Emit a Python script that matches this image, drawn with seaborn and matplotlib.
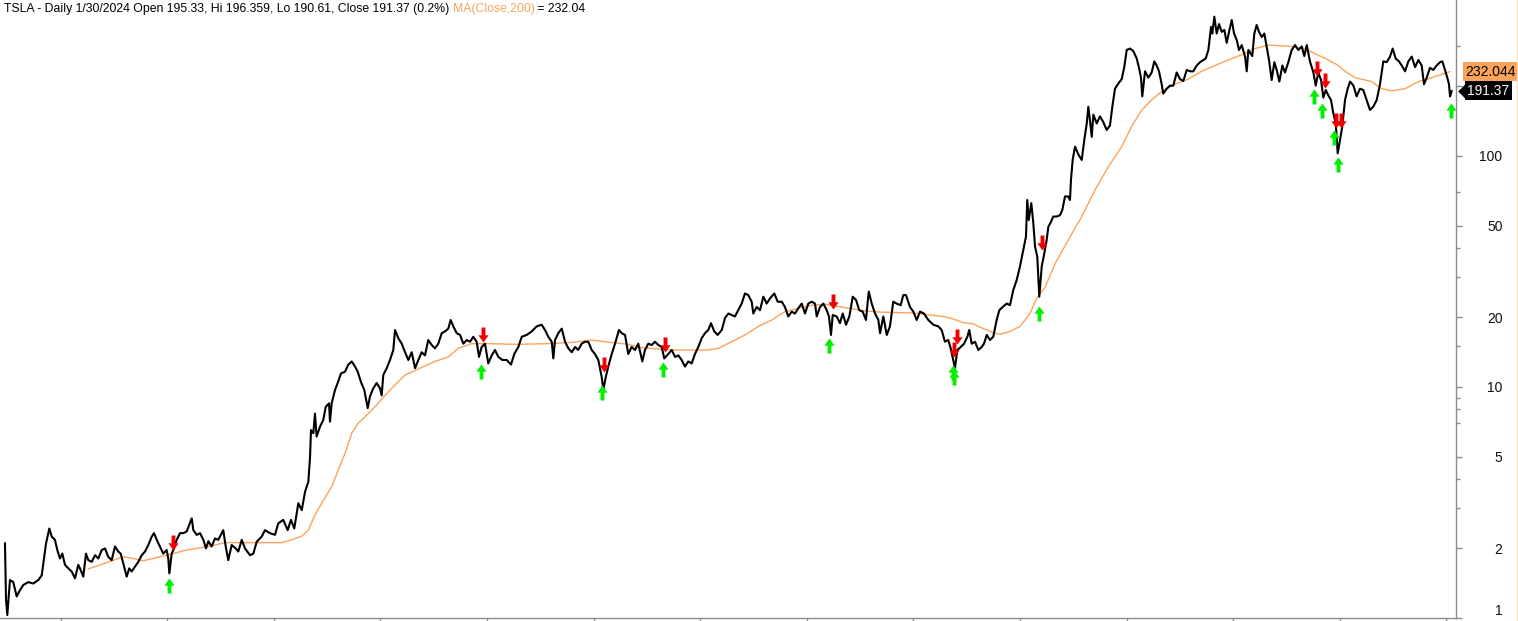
import matplotlib
matplotlib.use("Agg")
import matplotlib.pyplot as plt
import matplotlib.transforms as mtransforms
from matplotlib.path import Path
from matplotlib.lines import Line2D
import seaborn as sns

# TSLA daily close (decimal year, price)
price_t = [
    2010.478, 2010.488, 2010.500, 2010.525, 2010.556, 2010.588, 2010.619, 2010.650, 2010.697, 2010.744,
    2010.791, 2010.823, 2010.838, 2010.863, 2010.894, 2010.917, 2010.947, 2010.969, 2010.994, 2011.016,
    2011.041, 2011.072, 2011.104, 2011.135, 2011.166, 2011.189, 2011.213, 2011.238, 2011.260, 2011.292,
    2011.323, 2011.354, 2011.386, 2011.417, 2011.447, 2011.479, 2011.510, 2011.541, 2011.564, 2011.595,
    2011.620, 2011.644, 2011.667, 2011.698, 2011.729, 2011.761, 2011.792, 2011.823, 2011.855, 2011.876,
    2011.902, 2011.932, 2011.963, 2011.995, 2012.010, 2012.020, 2012.042, 2012.064, 2012.089, 2012.120,
    2012.151, 2012.183, 2012.207, 2012.230, 2012.245, 2012.277, 2012.308, 2012.339, 2012.364, 2012.386,
    2012.417, 2012.448, 2012.479, 2012.526, 2012.549, 2012.573, 2012.605, 2012.643, 2012.667, 2012.699,
    2012.730, 2012.777, 2012.808, 2012.840, 2012.886, 2012.917, 2012.964, 2013.011, 2013.042, 2013.089,
    2013.130, 2013.161, 2013.192, 2013.230, 2013.262, 2013.293, 2013.324, 2013.340, 2013.349, 2013.371,
    2013.386, 2013.402, 2013.433, 2013.464, 2013.487, 2013.518, 2013.527, 2013.543, 2013.574, 2013.599,
    2013.630, 2013.668, 2013.699, 2013.731, 2013.762, 2013.787, 2013.818, 2013.849, 2013.881, 2013.902,
    2013.933, 2013.965, 2013.996, 2014.012, 2014.027, 2014.059, 2014.090, 2014.121, 2014.137, 2014.168,
    2014.200, 2014.231, 2014.262, 2014.294, 2014.325, 2014.356, 2014.387, 2014.418, 2014.449, 2014.481,
    2014.512, 2014.543, 2014.575, 2014.606, 2014.637, 2014.659, 2014.684, 2014.716, 2014.747, 2014.778,
    2014.810, 2014.841, 2014.871, 2014.903, 2014.925, 2014.950, 2014.981, 2015.012, 2015.044, 2015.075,
    2015.106, 2015.144, 2015.185, 2015.225, 2015.256, 2015.294, 2015.326, 2015.372, 2015.419, 2015.466,
    2015.513, 2015.544, 2015.575, 2015.607, 2015.622, 2015.638, 2015.669, 2015.701, 2015.732, 2015.763,
    2015.795, 2015.826, 2015.856, 2015.888, 2015.919, 2015.950, 2015.982, 2016.013, 2016.044, 2016.076,
    2016.091, 2016.114, 2016.138, 2016.170, 2016.201, 2016.238, 2016.264, 2016.295, 2016.325, 2016.357,
    2016.388, 2016.419, 2016.457, 2016.482, 2016.513, 2016.545, 2016.576, 2016.607, 2016.639, 2016.663,
    2016.701, 2016.733, 2016.764, 2016.795, 2016.826, 2016.857, 2016.888, 2016.920, 2016.951, 2016.982,
    2017.014, 2017.045, 2017.076, 2017.101, 2017.132, 2017.164, 2017.202, 2017.233, 2017.264, 2017.296,
    2017.326, 2017.357, 2017.389, 2017.420, 2017.451, 2017.483, 2017.498, 2017.530, 2017.561, 2017.592,
    2017.624, 2017.655, 2017.695, 2017.727, 2017.765, 2017.795, 2017.826, 2017.858, 2017.889, 2017.920,
    2017.952, 2017.983, 2018.014, 2018.046, 2018.077, 2018.093, 2018.124, 2018.155, 2018.187, 2018.208,
    2018.227, 2018.243, 2018.280, 2018.311, 2018.337, 2018.368, 2018.399, 2018.431, 2018.462, 2018.492,
    2018.524, 2018.555, 2018.581, 2018.609, 2018.640, 2018.671, 2018.687, 2018.718, 2018.750, 2018.780,
    2018.811, 2018.843, 2018.881, 2018.905, 2018.930, 2018.968, 2018.999, 2019.031, 2019.062, 2019.099,
    2019.140, 2019.187, 2019.234, 2019.265, 2019.296, 2019.327, 2019.350, 2019.374, 2019.390, 2019.412,
    2019.444, 2019.475, 2019.506, 2019.524, 2019.547, 2019.578, 2019.609, 2019.641, 2019.662, 2019.688,
    2019.718, 2019.749, 2019.781, 2019.806, 2019.838, 2019.875, 2019.906, 2019.937, 2019.969, 2020.000,
    2020.031, 2020.056, 2020.068, 2020.082, 2020.106, 2020.125, 2020.141, 2020.162, 2020.181, 2020.204,
    2020.228, 2020.250, 2020.266, 2020.291, 2020.312, 2020.344, 2020.375, 2020.397, 2020.422, 2020.453,
    2020.469, 2020.478, 2020.494, 2020.516, 2020.547, 2020.579, 2020.603, 2020.626, 2020.641, 2020.656,
    2020.673, 2020.688, 2020.720, 2020.750, 2020.781, 2020.813, 2020.844, 2020.866, 2020.891, 2020.922,
    2020.954, 2020.978, 2021.001, 2021.032, 2021.063, 2021.095, 2021.116, 2021.135, 2021.147, 2021.173,
    2021.204, 2021.235, 2021.260, 2021.282, 2021.304, 2021.329, 2021.344, 2021.376, 2021.407, 2021.438,
    2021.470, 2021.501, 2021.532, 2021.564, 2021.595, 2021.626, 2021.658, 2021.689, 2021.720, 2021.742,
    2021.767, 2021.792, 2021.804, 2021.823, 2021.845, 2021.867, 2021.892, 2021.917, 2021.939, 2021.961,
    2021.986, 2022.008, 2022.033, 2022.054, 2022.080, 2022.111, 2022.127, 2022.142, 2022.179, 2022.198,
    2022.220, 2022.242, 2022.267, 2022.292, 2022.314, 2022.336, 2022.361, 2022.386, 2022.408, 2022.433,
    2022.461, 2022.486, 2022.517, 2022.549, 2022.580, 2022.611, 2022.643, 2022.667, 2022.690, 2022.720,
    2022.752, 2022.774, 2022.798, 2022.824, 2022.845, 2022.868, 2022.892, 2022.917, 2022.939, 2022.962,
    2022.980, 2023.002, 2023.023, 2023.049, 2023.074, 2023.096, 2023.127, 2023.158, 2023.189, 2023.220,
    2023.252, 2023.283, 2023.314, 2023.346, 2023.377, 2023.408, 2023.440, 2023.471, 2023.496, 2023.524,
    2023.555, 2023.581, 2023.612, 2023.643, 2023.675, 2023.706, 2023.737, 2023.768, 2023.790, 2023.815,
    2023.846, 2023.877, 2023.909, 2023.940, 2023.962, 2023.987, 2024.012, 2024.024, 2024.034, 2024.050,
]
price_v = [
    2.11, 1.20, 1.03, 1.46, 1.43, 1.24, 1.32, 1.39, 1.43, 1.41,
    1.46, 1.53, 1.725, 2.10, 2.44, 2.25, 2.18, 1.97, 1.81, 1.90,
    1.70, 1.64, 1.59, 1.485, 1.70, 1.61, 1.51, 1.90, 1.78, 1.75,
    1.87, 1.81, 1.97, 2.00, 1.84, 1.78, 2.04, 1.94, 1.90, 1.67,
    1.51, 1.64, 1.59, 1.67, 1.75, 1.87, 1.94, 2.07, 2.25, 2.33,
    2.18, 2.04, 1.90, 1.97, 1.81, 1.56, 1.90, 2.00, 2.18, 2.33,
    2.33, 2.37, 2.53, 2.70, 2.40, 2.29, 2.33, 2.18, 2.00, 2.15,
    2.04, 2.21, 2.18, 2.40, 2.04, 1.78, 2.07, 2.00, 1.94, 2.18,
    2.00, 1.87, 1.90, 2.14, 2.25, 2.40, 2.33, 2.29, 2.57, 2.66,
    2.40, 2.66, 2.44, 3.14, 2.93, 3.52, 3.89, 4.98, 6.51, 6.31,
    7.67, 6.10, 6.73, 7.20, 8.20, 8.50, 7.08, 8.50, 9.70, 10.4,
    11.44, 11.65, 12.5, 12.9, 12.26, 11.65, 10.5, 9.70, 8.10, 9.10,
    9.87, 10.4, 9.87, 9.20, 11.27, 12.06, 13.09, 14.46, 17.65, 16.27,
    15.4, 14.14, 13.09, 14.14, 12.06, 13.09, 14.14, 13.7, 15.97, 15.2,
    14.7, 15.4, 17.1, 17.4, 17.9, 19.5, 18.3, 17.1, 16.8, 15.4,
    15.97, 15.7, 16.5, 15.7, 13.5, 14.9, 15.4, 12.65, 13.7, 14.46,
    13.5, 13.09, 13.09, 12.5, 13.9, 14.9, 16.5, 16.8, 17.4, 18.3,
    18.6, 17.65, 16.5, 15.7, 13.3, 15.97, 17.1, 17.9, 15.7, 14.7,
    14.14, 14.9, 14.46, 15.4, 15.7, 15.7, 14.46, 13.9, 13.09, 11.05,
    9.70, 11.05, 12.26, 13.9, 15.4, 17.65, 17.1, 16.8, 13.9, 14.9,
    14.46, 15.4, 12.9, 14.46, 15.4, 15.2, 15.7, 15.2, 14.9, 13.3,
    13.9, 14.46, 13.5, 13.7, 13.09, 12.26, 12.9, 12.65, 13.9, 14.9,
    16.27, 17.1, 17.65, 18.9, 17.4, 16.8, 17.65, 19.9, 20.8, 20.5,
    20.2, 21.5, 22.97, 25.4, 25.0, 23.4, 20.8, 22.2, 21.5, 24.6,
    22.97, 24.2, 25.4, 23.4, 23.4, 22.2, 20.2, 21.2, 20.8, 21.9,
    22.97, 20.8, 22.97, 23.4, 22.97, 20.2, 22.2, 22.97, 21.5, 20.2,
    16.8, 20.5, 20.2, 18.9, 20.8, 18.6, 20.2, 24.6, 23.8, 21.5,
    21.2, 19.5, 25.9, 22.97, 20.8, 19.5, 17.1, 20.2, 16.8, 18.3,
    23.4, 22.97, 22.6, 25.0, 25.0, 22.2, 21.2, 19.5, 21.2, 20.8,
    19.5, 18.6, 18.3, 17.65, 15.7, 15.97, 14.7, 13.09, 12.06, 14.46,
    14.9, 15.4, 16.5, 17.65, 15.4, 15.7, 14.46, 14.9, 15.4, 16.8,
    15.97, 16.5, 19.5, 21.5, 22.2, 22.97, 22.6, 26.3, 29.05, 33.3,
    39.2, 44.8, 64.5, 52.8, 62.5, 51.2, 40.5, 36.7, 24.6, 33.3,
    37.9, 43.3, 49.4, 51.9, 54.7, 54.7, 55.4, 58.4, 66.8, 66.8,
    64.5, 78.7, 96.1, 109.8, 101.6, 96.1, 117.3, 138.3, 163.4, 143.2,
    121.0, 151.0, 138.3, 148.5, 140.3, 129.6, 135.5, 163.4, 195.6, 205.7,
    215.2, 242.5, 287.7, 291.8, 284.5, 264.3, 240.9, 218.3, 181.2, 232.6,
    218.3, 229.9, 256.8, 246.5, 232.6, 204.5, 186.3, 195.6, 201.7, 201.7,
    229.9, 215.2, 211.2, 235.7, 232.6, 232.6, 246.5, 254.8, 260.4, 264.3,
    287.7, 362.0, 339.0, 401.2, 339.0, 372.4, 344.8, 351.2, 309.0, 344.8,
    388.0, 339.0, 317.9, 287.7, 302.1, 269.4, 232.6, 287.7, 270.8, 339.0,
    369.0, 344.8, 327.0, 339.0, 297.9, 260.4, 213.3, 254.8, 235.7, 210.0,
    246.5, 229.9, 254.8, 287.7, 302.1, 287.7, 297.9, 270.8, 302.1, 256.8,
    229.9, 201.7, 229.9, 213.3, 179.0, 193.1, 183.2, 174.8, 153.3, 138.3,
    102.7, 117.3, 134.4, 174.8, 195.6, 210.0, 202.1, 181.2, 195.6, 193.1,
    174.8, 158.2, 163.4, 174.8, 204.5, 256.8, 254.8, 269.4, 291.8, 264.3,
    256.8, 246.5, 232.6, 256.8, 269.4, 242.5, 260.4, 246.5, 204.5, 218.3,
    240.9, 235.7, 246.5, 254.8, 256.8, 235.7, 215.2, 204.5, 181.0, 191.37,
]

# MA(Close,200)
ma_t = [
    2011.260, 2011.588, 2011.682, 2011.776, 2011.995, 2012.183, 2012.386, 2012.542, 2012.824, 2013.074,
    2013.168, 2013.262, 2013.324, 2013.386, 2013.449, 2013.543, 2013.605, 2013.668, 2013.731, 2013.793,
    2013.856, 2013.949, 2014.043, 2014.137, 2014.231, 2014.371, 2014.512, 2014.637, 2014.731, 2014.856,
    2015.044, 2015.263, 2015.575, 2015.795, 2015.982, 2016.107, 2016.325, 2016.451, 2016.607, 2016.764,
    2017.076, 2017.170, 2017.233, 2017.326, 2017.420, 2017.545, 2017.671, 2017.795, 2017.920, 2018.046,
    2018.171, 2018.374, 2018.530, 2018.687, 2018.999, 2019.156, 2019.280, 2019.374, 2019.468, 2019.562,
    2019.656, 2019.749, 2019.812, 2019.906, 2020.000, 2020.094, 2020.157, 2020.235, 2020.329, 2020.453,
    2020.579, 2020.704, 2020.829, 2020.954, 2021.048, 2021.142, 2021.235, 2021.329, 2021.454, 2021.579,
    2021.704, 2021.829, 2021.954, 2022.048, 2022.111, 2022.205, 2022.329, 2022.517, 2022.673, 2022.767,
    2022.892, 2022.986, 2023.049, 2023.143, 2023.299, 2023.393, 2023.486, 2023.612, 2023.737, 2023.862,
    2024.034,
]
ma_v = [
    1.63, 1.84, 1.81, 1.77, 1.87, 1.97, 2.04, 2.12, 2.12, 2.12,
    2.18, 2.26, 2.40, 2.79, 3.14, 3.70, 4.37, 5.16, 6.31, 6.98,
    7.43, 8.20, 9.20, 10.2, 11.27, 12.06, 12.9, 13.5, 14.7, 15.4,
    15.4, 15.3, 15.4, 15.6, 15.97, 15.7, 15.3, 14.8, 14.6, 14.46,
    14.46, 14.7, 15.2, 15.97, 16.8, 18.3, 19.5, 21.2, 21.9, 22.6,
    22.8, 22.0, 21.4, 21.1, 20.9, 20.5, 20.2, 19.7, 19.0, 18.75,
    17.9, 17.2, 16.9, 17.4, 18.3, 20.8, 24.2, 27.0, 34.2, 43.3,
    54.7, 71.2, 89.9, 109.8, 134.4, 158.2, 174.8, 190.3, 204.5, 215.2,
    232.6, 246.5, 260.4, 270.8, 278.0, 291.8, 302.1, 299.0, 291.8, 277.5,
    260.4, 246.5, 232.6, 218.3, 210.0, 195.6, 191.5, 195.6, 210.0, 218.3,
    232.0,
]

# signal arrows (date, price at arrow tip)
buy_t = [2012.021, 2014.944, 2016.079, 2016.651, 2018.208, 2019.371, 2019.380, 2020.178,
         2022.757, 2022.832, 2022.944, 2022.983, 2024.043]
buy_p = [1.49, 12.58, 10.2, 12.83, 16.3, 12.45, 11.8, 22.4,
         195.0, 169.6, 129.6, 99.0, 169.6]
sell_t = [2012.050, 2014.963, 2016.098, 2016.670, 2018.243, 2019.409, 2019.384, 2020.206,
          2022.786, 2022.861, 2022.967, 2023.014]
sell_p = [1.97, 15.7, 11.65, 14.2, 21.8, 15.35, 13.5, 39.2,
          222.0, 197.0, 132.2, 132.2]

year_ticks = list(range(2011, 2025))
price_ticks = [1, 2, 5, 10, 20, 50, 100, 200]
minor_ticks = [3, 4, 7, 8, 9, 15, 30, 40, 70, 300]

title_main = "TSLA - Daily 1/30/2024 Open 195.33, Hi 196.359, Lo 190.61, Close 191.37 (0.2%) "
title_ma = "MA(Close,200)"
title_end = " = 232.04"
last_close = 191.37
last_ma = 232.044

ma_color = "#FBA35A"
grey = "#8C8C8C"

sns.set_theme(style="white")
plt.rcParams["font.family"] = ["Liberation Sans", "DejaVu Sans"]

fig = plt.figure(figsize=(15.18, 6.21), dpi=100)
ax = fig.add_axes([0, 3 / 621, 1456 / 1518, 618 / 621])

sns.lineplot(x=ma_t, y=ma_v, ax=ax, color=ma_color, linewidth=1.0, sort=False, zorder=2)
sns.lineplot(x=price_t, y=price_v, ax=ax, color="black", linewidth=1.5, sort=False, zorder=3)

ax.set_yscale("log")
ax.set_xlim(2010.4315, 2024.09)
ax.set_ylim(1.0, 473.5)

# arrow markers, tip at (0, 0)
up = Path([(0, 0), (0.34, -0.48), (0.13, -0.48), (0.13, -1), (-0.13, -1), (-0.13, -0.48), (-0.34, -0.48), (0, 0)],
          closed=True)
down = Path([(0, 0), (0.34, 0.48), (0.13, 0.48), (0.13, 1), (-0.13, 1), (-0.13, 0.48), (-0.34, 0.48), (0, 0)],
            closed=True)
ax.plot(buy_t, buy_p, linestyle="none", marker=up, markersize=21.6, color="#00F000",
        markeredgewidth=0, zorder=5)
ax.plot(sell_t, sell_p, linestyle="none", marker=down, markersize=21.6, color="#F00000",
        markeredgewidth=0, zorder=5)

# axes look
for s in ["top", "left"]:
    ax.spines[s].set_visible(False)
for s in ["bottom", "right"]:
    ax.spines[s].set_color(grey)
    ax.spines[s].set_linewidth(1.0)

ax.set_xticks(year_ticks)
ax.set_xticklabels([])
ax.tick_params(axis="x", bottom=True, direction="out", length=3, color=grey, width=1)

ax.yaxis.tick_right()
ax.set_yticks(price_ticks)
ax.set_yticklabels([str(v) for v in price_ticks])
ax.set_yticks(minor_ticks, minor=True)
ax.yaxis.set_minor_formatter(plt.NullFormatter())
ax.tick_params(axis="y", which="major", right=True, direction="out", length=4.5, color=grey, width=1,
               pad=29, labelsize=10, labelcolor="#111111")
ax.tick_params(axis="y", which="minor", right=True, direction="out", length=3, color=grey, width=1)
for lab in ax.get_yticklabels():
    lab.set_horizontalalignment("right")
# lowest label sits just above the bottom edge
ax.get_yticklabels()[0].set_verticalalignment("bottom")
ax.grid(False)
ax.set_xlabel("")
ax.set_ylabel("")

# title line, three colour pieces
t1 = fig.text(4 / 1518, 1 - 9 / 621, title_main, fontsize=8.8, color="black", va="center", ha="left")
t2 = ax.annotate(title_ma, xy=(1, 0), xycoords=t1, fontsize=8.8, color=ma_color, va="bottom", ha="left")
ax.annotate(title_end, xy=(1, 0), xycoords=t2, fontsize=8.8, color="black", va="bottom", ha="left")

# last value labels on the price axis
blend = mtransforms.blended_transform_factory(ax.transAxes, ax.transData)
ax.text(1.0063, last_ma, f"{last_ma:.3f}", transform=blend, fontsize=10, color="black", va="center",
        ha="left", clip_on=False, zorder=10,
        bbox=dict(boxstyle="square,pad=0.18", fc=ma_color, ec="none"))
tip = Path([(-1, 0), (0, -1), (0, 1), (-1, 0)], closed=True)
ax.plot([1.0062], [last_close], transform=blend, marker=tip, markersize=10.5, color="black",
        markeredgewidth=0, clip_on=False, zorder=10)
ax.text(1.0076, last_close, f"{last_close:.2f}", transform=blend, fontsize=10, color="white", va="center",
        ha="left", clip_on=False, zorder=10,
        bbox=dict(boxstyle="square,pad=0.18", fc="black", ec="none"))

fig.add_artist(Line2D([0.9995, 0.9995], [0, 1], transform=fig.transFigure, color="#FBE0C0", linewidth=1))

fig.savefig("out.png", dpi=100, facecolor="white")
